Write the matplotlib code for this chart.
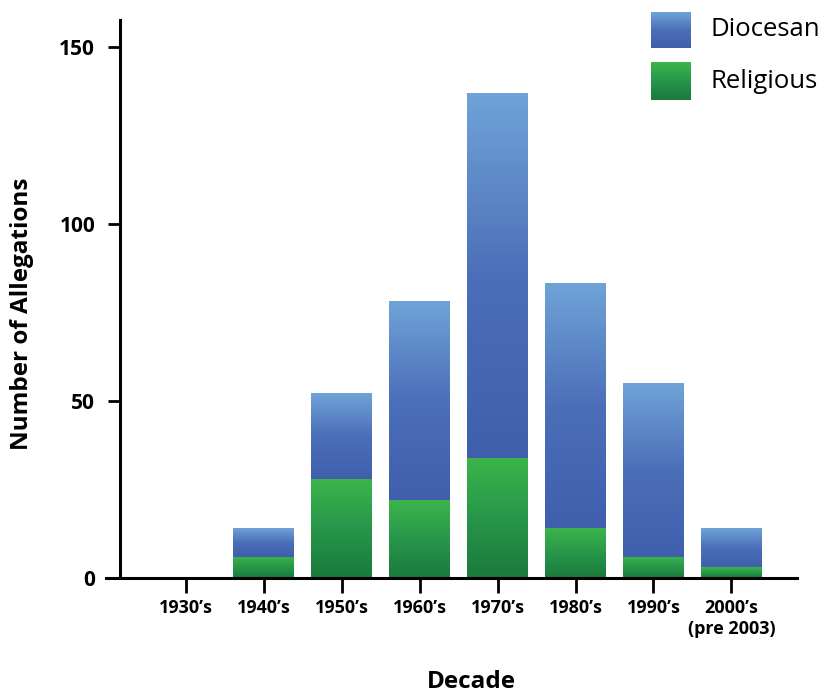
import numpy as np
import matplotlib
matplotlib.use("Agg")
import matplotlib.pyplot as plt
from matplotlib.colors import LinearSegmentedColormap

plt.rcParams["font.family"] = ["Open Sans", "DejaVu Sans"]

decades = ["1930\u2019s", "1940\u2019s", "1950\u2019s", "1960\u2019s", "1970\u2019s",
           "1980\u2019s", "1990\u2019s", "2000\u2019s\n(pre 2003)"]
religious = [0, 6, 28, 22, 34, 14, 6, 3]
diocesan = [0, 8, 24, 56, 103, 69, 49, 11]
yticks = [0, 50, 100, 150]

# gradients: light at the top of each segment, dark at the bottom
blue_cmap = LinearSegmentedColormap.from_list("dio", ["#3f5fad", "#4c6fb9", "#6fa3d7"])
green_cmap = LinearSegmentedColormap.from_list("rel", ["#1a7a3c", "#28964a", "#3cb54b"])
grad = np.linspace(0, 1, 256).reshape(-1, 1)


def fill_gradient(ax, bars, cmap):
    # paint each bar rectangle with a vertical gradient
    for bar in bars.patches:
        h = bar.get_height()
        if h <= 0:
            continue
        x0 = bar.get_x()
        y0 = bar.get_y()
        ax.imshow(grad, cmap=cmap, origin="lower", aspect="auto",
                  extent=[x0, x0 + bar.get_width(), y0, y0 + h], zorder=2)


fig = plt.figure(figsize=(8.2, 6.95), dpi=100)
ax = fig.add_axes([106 / 820, 1 - 578 / 695, (797 - 106) / 820, (578 - 20) / 695])

x = np.arange(len(decades))
width = 0.78
b_rel = ax.bar(x, religious, width, color="none", linewidth=0)
b_dio = ax.bar(x, diocesan, width, bottom=religious, color="none", linewidth=0)
fill_gradient(ax, b_rel, green_cmap)
fill_gradient(ax, b_dio, blue_cmap)

ax.set_xlim(-1.02, 7.84)
ax.set_ylim(0, 157.5)

for s in ["top", "right"]:
    ax.spines[s].set_visible(False)
ax.spines["left"].set_position(("data", -0.84))
ax.spines["left"].set_linewidth(2.2)
ax.spines["bottom"].set_linewidth(2.2)
ax.spines["left"].set_zorder(3)
ax.spines["bottom"].set_zorder(3)

ax.set_yticks(yticks)
ax.set_yticklabels([str(v) for v in yticks], fontsize=15, fontweight="bold")
ax.set_xticks(x)
ax.set_xticklabels(decades, fontsize=13, fontweight="bold")
ax.tick_params(axis="y", length=9, width=2, direction="out", pad=9)
ax.tick_params(axis="x", length=11, width=2, direction="out", pad=4)

fig.text(22 / 820, 1 - 314 / 695, "Number of Allegations", rotation=90,
         fontsize=17.5, fontweight="bold", ha="center", va="center")
fig.text(471 / 820, 1 - 682 / 695, "Decade", fontsize=17.5, fontweight="bold",
         ha="center", va="center")

# legend drawn as two small gradient swatches
for (ytop, ybot, cmap, label) in [(12, 48, blue_cmap, "Diocesan"), (62, 100, green_cmap, "Religious")]:
    lax = fig.add_axes([651 / 820, 1 - ybot / 695, 40 / 820, (ybot - ytop) / 695])
    lax.imshow(grad, cmap=cmap, origin="lower", aspect="auto")
    lax.axis("off")
    fig.text(711 / 820, 1 - (ytop + ybot) / 2 / 695, label, fontsize=18.5,
             va="center", ha="left")

fig.savefig("out.png", dpi=100)
